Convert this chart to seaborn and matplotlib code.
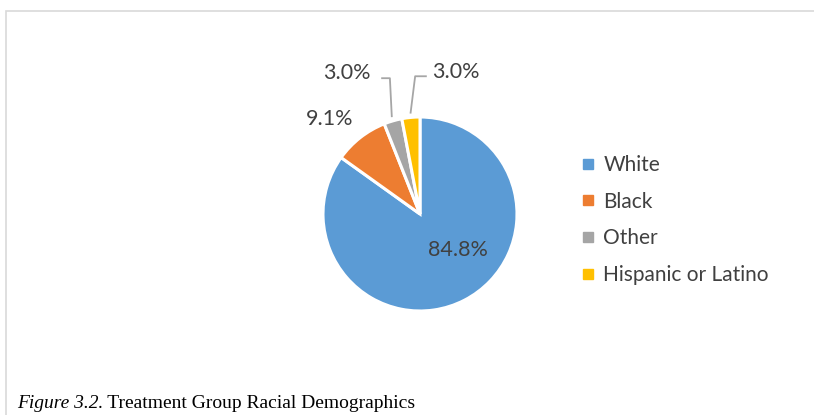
import matplotlib
matplotlib.use("Agg")
import matplotlib.pyplot as plt
import seaborn as sns
import numpy as np
from matplotlib.lines import Line2D
from matplotlib.patches import Rectangle

categories = ["White", "Black", "Other", "Hispanic or Latino"]
values = [84.8, 9.1, 3.0, 3.0]
labels_pct = ["84.8%", "9.1%", "3.0%", "3.0%"]
colors = ["#5B9BD5", "#ED7D31", "#A5A5A5", "#FFC000"]

sns.set_theme(style="white")
plt.rcParams['font.family'] = ['Lato', 'DejaVu Sans']
TXT = "#404040"

W, H = 814, 415
fig = plt.figure(figsize=(W / 100, H / 100), dpi=100)
fig.patch.set_facecolor("white")

# light frame
fig.add_artist(Rectangle((6 / W, -0.1), 2.0, (H - 11) / H + 0.1, transform=fig.transFigure,
                         fill=False, edgecolor="#D9D9D9", linewidth=1.2))

cx, cy, R = 420, 214, 97
half = 2 * R
ax = fig.add_axes([(cx - half) / W, (H - cy - half) / H, 2 * half / W, 2 * half / H])

wedges, _ = ax.pie(values, colors=colors, startangle=90, counterclock=False, radius=1,
                   wedgeprops=dict(edgecolor="white", linewidth=2.2))
ax.set_xlim(-2, 2)
ax.set_ylim(-2, 2)
ax.axis("off")

fs = 15.5
for i, w in enumerate(wedges):
    mid = np.deg2rad((w.theta1 + w.theta2) / 2)
    ex, ey = np.cos(mid), np.sin(mid)
    if i == 0:
        ax.text(0.39, -0.37, labels_pct[i], ha="center", va="center", fontsize=fs, color=TXT)
    elif i == 1:
        ax.text(-0.93, 0.98, labels_pct[i], ha="center", va="center", fontsize=fs, color=TXT)
    elif i == 2:
        ax.plot([ex * 1.04, ex * 1.04 - 0.02, -0.40], [ey * 1.04, 1.40, 1.40],
                color="#A6A6A6", lw=1.3, solid_capstyle="butt")
        ax.text(-0.51, 1.45, labels_pct[i], ha="right", va="center", fontsize=fs, color=TXT)
    else:
        ax.plot([ex * 1.04, -0.05, 0.07], [ey * 1.04, 1.42, 1.42],
                color="#A6A6A6", lw=1.3, solid_capstyle="butt")
        ax.text(0.12, 1.46, labels_pct[i], ha="left", va="center", fontsize=fs, color=TXT)

handles = [Line2D([0], [0], marker="s", linestyle="none", markersize=6.5,
                  markerfacecolor=c, markeredgecolor=c) for c in colors]
fig.legend(handles, categories, loc="center left", bbox_to_anchor=(572 / W, (H - 220) / H),
           frameon=False, fontsize=15, labelcolor=TXT, handlelength=0.7,
           handletextpad=0.4, labelspacing=0.8, borderaxespad=0)

cap_fs = 14
fig.text(17 / W, (H - 408) / H, "Figure 3.2", fontsize=cap_fs, style="italic",
         family="Liberation Serif", color="black", va="baseline", ha="left")
fig.canvas.draw()
r = fig.texts[-1].get_window_extent()
fig.text(r.x1 / W, (H - 408) / H, ". Treatment Group Racial Demographics", fontsize=cap_fs,
         family="Liberation Serif", color="black", va="baseline", ha="left")

fig.savefig("out.png", dpi=100, facecolor="white")
